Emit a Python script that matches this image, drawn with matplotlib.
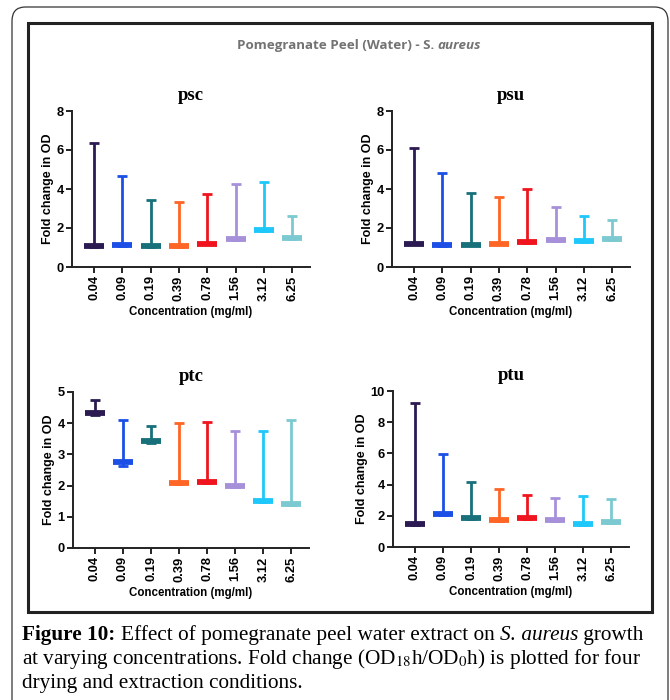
import matplotlib
matplotlib.use('Agg')
import matplotlib.pyplot as plt
from matplotlib.patches import Rectangle, FancyBboxPatch

concs = ['0.04', '0.09', '0.19', '0.39', '0.78', '1.56', '3.12', '6.25']
colors = ['#2b1b52', '#1c4fe6', '#17707a', '#ff6626', '#f0141e', '#a790da', '#1ec8fa', '#7cc9d1']

# mean, low and high fold change for each condition
psc_mean = [1.06, 1.13, 1.09, 1.09, 1.20, 1.42, 1.91, 1.50]
psc_low = [1.02, 1.10, 1.05, 1.05, 1.16, 1.38, 1.87, 1.46]
psc_high = [6.36, 4.67, 3.45, 3.33, 3.73, 4.27, 4.38, 2.63]

psu_mean = [1.20, 1.13, 1.15, 1.20, 1.28, 1.37, 1.33, 1.44]
psu_low = [1.16, 1.09, 1.11, 1.16, 1.24, 1.33, 1.29, 1.40]
psu_high = [6.09, 4.84, 3.78, 3.59, 4.02, 3.08, 2.60, 2.43]

ptc_mean = [4.32, 2.75, 3.43, 2.09, 2.12, 1.98, 1.51, 1.41]
ptc_low = [4.26, 2.62, 3.38, 2.05, 2.08, 1.94, 1.47, 1.37]
ptc_high = [4.74, 4.11, 3.92, 4.00, 4.03, 3.74, 3.74, 4.09]

ptu_mean = [1.47, 2.12, 1.86, 1.71, 1.86, 1.73, 1.47, 1.60]
ptu_low = [1.40, 2.05, 1.80, 1.65, 1.80, 1.67, 1.41, 1.54]
ptu_high = [9.23, 5.98, 4.17, 3.74, 3.31, 3.14, 3.29, 3.06]

panels = [
    ('psc', psc_mean, psc_low, psc_high, 8, [0, 2, 4, 6, 8]),
    ('psu', psu_mean, psu_low, psu_high, 8, [0, 2, 4, 6, 8]),
    ('ptc', ptc_mean, ptc_low, ptc_high, 5, [0, 1, 2, 3, 4, 5]),
    ('ptu', ptu_mean, ptu_low, ptu_high, 10, [0, 2, 4, 6, 8, 10]),
]

plt.rcParams['mathtext.fontset'] = 'stix'

W, H = 670, 700
fig = plt.figure(figsize=(6.7, 7.0), dpi=100)
renderer = fig.canvas.get_renderer()


def text_run(x_px, y_px, parts, **kw):
    # write pieces of text one after another on the same baseline
    x = x_px
    for s, extra in parts:
        t = fig.text(x / W, 1 - y_px / H, s, **kw, **extra)
        x += t.get_window_extent(renderer).width
    return x


# outer rounded frame and inner black frame
fig.patches.append(FancyBboxPatch((12 / W, -0.02), 656 / W, 1 - 7 / H + 0.02,
                                  boxstyle='round,pad=0,rounding_size=0.02',
                                  transform=fig.transFigure, fill=False,
                                  edgecolor='#333333', linewidth=0.9))
fig.patches.append(Rectangle((28 / W, 1 - 612 / H), 624 / W, 589 / H,
                             transform=fig.transFigure, fill=False,
                             edgecolor='#222222', linewidth=2.2))

# top heading
head_kw = dict(fontsize=9.6, color='#737373', family='Open Sans', fontweight='bold',
               va='baseline', ha='left')
text_run(237, 49, [('Pomegranate Peel (Water) - S. ', {}),
                   ('aureus', {'fontstyle': 'italic'})], **head_kw)

boxes = [
    (72, 310, 267, 111),
    (392, 630, 267, 111),
    (73, 309, 548, 392),
    (393, 629, 547, 391),
]

for (name, mean, low, high, top, ticks), (x0, x1, yb, yt) in zip(panels, boxes):
    ax = fig.add_axes([x0 / W, 1 - yb / H, (x1 - x0) / W, (yb - yt) / H])
    xs = list(range(len(concs)))
    for i in xs:
        ax.errorbar(i, mean[i], yerr=[[mean[i] - low[i]], [high[i] - mean[i]]],
                    fmt='none', ecolor=colors[i], elinewidth=2.0,
                    capsize=3.6, capthick=2.0)
        ax.plot(i, mean[i], marker='_', color=colors[i], markersize=14,
                markeredgewidth=4.2, linestyle='none')
    ax.set_xlim(-0.78, 7.63)
    ax.set_ylim(0, top)
    ax.set_yticks(ticks)
    ax.set_xticks(xs)
    ax.set_xticklabels(concs, rotation=90)
    for s in ['top', 'right']:
        ax.spines[s].set_visible(False)
    for s in ['left', 'bottom']:
        ax.spines[s].set_linewidth(1.4)
        ax.spines[s].set_color('#222222')
    ax.tick_params(width=1.4, length=4, color='#222222', labelsize=9.3, pad=2)
    for lab in ax.get_xticklabels() + ax.get_yticklabels():
        lab.set_fontweight('bold')
        lab.set_family('Liberation Sans')
    ax.set_xlabel('Concentration (mg/ml)', fontsize=8.3, fontweight='bold',
                  family='Liberation Sans', labelpad=4)
    ax.set_ylabel('Fold change in OD', fontsize=9, fontweight='bold',
                  family='Liberation Sans', labelpad=2)
    ax.set_title(name, fontsize=13.5, fontweight='bold', family='Liberation Serif', pad=8)

# caption
cap_kw = dict(fontsize=15.3, family='Liberation Serif', va='baseline', ha='left')
text_run(22, 640, [('Figure 10: ', {'fontweight': 'bold'}),
                   ('Effect of pomegranate peel water extract on ', {}),
                   ('S. aureus', {'fontstyle': 'italic'}),
                   (' growth', {})], **cap_kw)
fig.text(22 / W, 1 - 664 / H,
         'at varying concentrations. Fold change (OD$_{18}$h/OD$_{0}$h) is plotted for four', **cap_kw)
fig.text(22 / W, 1 - 688 / H, 'drying and extraction conditions.', **cap_kw)

fig.savefig('out.png', dpi=100)
